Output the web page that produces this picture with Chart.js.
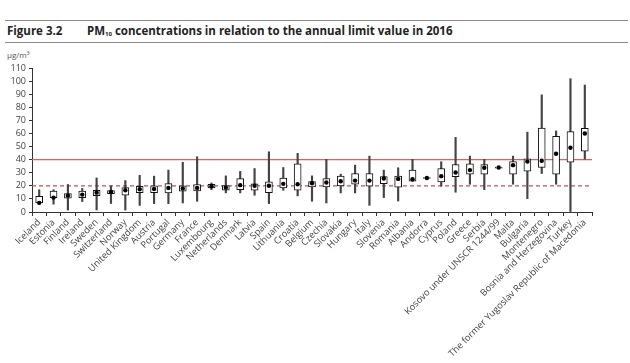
<!DOCTYPE html>
<html>
<head>
<meta charset="utf-8">
<script src="https://cdn.jsdelivr.net/npm/chart.js@4.4.1/dist/chart.umd.min.js"></script>
<style>
  html, body { margin: 0; padding: 0; background: #fff; overflow: hidden; }
  #page { position: relative; width: 630px; height: 363px; font-family: "Open Sans", sans-serif; }
  .rule { position: absolute; left: 5px; right: 2px; height: 0; border-top: 1.5px solid #8a8a8a; }
  #fig { position: absolute; left: 7px; top: 23px; font-size: 11.5px; font-weight: 700; color: #222; }
  #title { position: absolute; left: 87px; top: 23px; font-size: 11.5px; font-weight: 700; color: #222; }
  #title sub { font-size: 6px; vertical-align: -1px; }
  #unit { position: absolute; left: 7px; top: 49px; font-size: 8px; color: #555; }
  canvas { position: absolute; left: 0; top: 0; }
</style>
</head>
<body>
<div id="page">
  <div class="rule" style="top:20px"></div>
  <div class="rule" style="top:42px"></div>
  <div id="fig">Figure 3.2</div>
  <div id="title">PM<sub>10</sub> concentrations in relation to the annual limit value in 2016</div>
  <div id="unit">µg/m³</div>
  <canvas id="chart" width="630" height="363"></canvas>
</div>
<script>
var countries = ['Iceland', 'Estonia', 'Finland', 'Ireland', 'Sweden', 'Switzerland', 'Norway',
  'United Kingdom', 'Austria', 'Portugal', 'Germany', 'France', 'Luxembourg', 'Netherlands',
  'Denmark', 'Latvia', 'Spain', 'Lithuania', 'Croatia', 'Belgium', 'Czechia', 'Slovakia',
  'Hungary', 'Italy', 'Slovenia', 'Romania', 'Albania', 'Andorra', 'Cyprus', 'Poland', 'Greece',
  'Serbia', 'Kosovo under UNSCR 1244/99', 'Malta', 'Bulgaria', 'Montenegro',
  'Bosnia and Herzegovina', 'Turkey', 'The former Yugoslav Republic of Macedonia'];

// lowest station, 25th percentile, median, 75th percentile, highest station
var lowest = [6, 6, 1.5, 8, 1.5, 6.5, 1.5, 5, 6.4, 6.4, 6.9, 8.2, 17.1, 14.6, 14.6, 12.8, 6.4, 16.6,
  12.3, 8.2, 6.9, 14.6, 14.6, 5.1, 11, 8.4, 23.5, 25.3, 19.7, 15.1, 21.2, 17.1, 33.2, 21.2, 10.2,
  29.4, 21.2, 0, 40.4];
var p25 = [7, 11, 10.5, 11, 12.5, 14, 12.8, 14.8, 14.8, 14.6, 15.9, 16.1, 18.4, 16.7, 17.1, 16.6,
  14.8, 18.4, 16.6, 19.2, 19.2, 20, 21.2, 19.7, 21.7, 18.9, 23.5, 25.6, 23, 26.9, 28.9, 28.9, 33.5,
  28.9, 31.2, 34, 28.9, 38.1, 46.5];
var medians = [7, 11, 12.5, 13.3, 14.8, 15.3, 16.6, 17.4, 17.6, 18.4, 17.9, 18.4, 19.7, 18.6, 20.5,
  20, 20, 21.5, 21.2, 22, 22.5, 23.5, 24, 24, 25.6, 25.3, 25, 26, 27.4, 30.2, 32, 33.8, 34, 35.8,
  38.6, 39.1, 44.5, 49.1, 60];
var p75 = [12, 16, 14, 16, 16.6, 16.4, 18.7, 19.7, 20, 21.7, 20, 21, 21.2, 20.1, 25.5, 21.5, 23, 26,
  36.8, 23.3, 25.6, 27.4, 29.4, 29.4, 27.1, 27.4, 32, 26.3, 33.2, 36.3, 36.8, 36.3, 34.3, 38.6,
  40.7, 64.2, 57.8, 61.4, 64];
var highest = [17, 17, 21, 18, 26, 20, 24, 28, 27.4, 32, 38, 42.2, 22.2, 27.6, 31, 33.2, 46, 34, 44.8,
  27.6, 40.2, 28.9, 35.8, 42.7, 32, 33.8, 40.2, 26.6, 38.4, 57, 42.7, 40.2, 34.5, 42.7, 61, 89.5,
  61.9, 101.8, 97];

var limitValue = 40;
var guideValue = 20;
var yTicks = [0, 10, 20, 30, 40, 50, 60, 70, 80, 90, 100, 110];

var whiskers = lowest.map(function(v, i) { return [v, highest[i]]; });
var boxes = p25.map(function(v, i) { return [v, p75[i]]; });

// red limit lines behind the boxes
var limitLines = {
  id: 'limitLines',
  beforeDatasetsDraw: function(chart) {
    var ctx = chart.ctx;
    var area = chart.chartArea;
    var y = chart.scales.y;
    ctx.save();
    ctx.lineWidth = 1.3;
    ctx.strokeStyle = '#d2665e';
    ctx.beginPath();
    ctx.moveTo(area.left, y.getPixelForValue(limitValue));
    ctx.lineTo(area.right, y.getPixelForValue(limitValue));
    ctx.stroke();
    ctx.setLineDash([4, 3]);
    ctx.strokeStyle = '#c9514a';
    ctx.beginPath();
    ctx.moveTo(area.left, y.getPixelForValue(guideValue));
    ctx.lineTo(area.right, y.getPixelForValue(guideValue));
    ctx.stroke();
    ctx.restore();
  }
};

var ctx = document.getElementById('chart').getContext('2d');
new Chart(ctx, {
  type: 'bar',
  data: {
    labels: countries,
    datasets: [
      {
        type: 'line',
        label: 'Median',
        data: medians,
        showLine: false,
        pointRadius: 2.2,
        pointBackgroundColor: '#000',
        pointBorderWidth: 0,
        order: 0
      },
      {
        label: 'Percentiles',
        data: boxes,
        grouped: false,
        barThickness: 7,
        backgroundColor: '#fff',
        borderColor: '#111',
        borderWidth: 1,
        borderSkipped: false,
        order: 1
      },
      {
        label: 'Range',
        data: whiskers,
        grouped: false,
        barThickness: 1.5,
        backgroundColor: '#444',
        borderWidth: 0,
        order: 2
      }
    ]
  },
  options: {
    responsive: false,
    animation: false,
    devicePixelRatio: 1,
    layout: { padding: { top: 68, right: 38, left: 0, bottom: 0 } },
    plugins: { legend: { display: false }, tooltip: { enabled: false } },
    scales: {
      x: {
        afterFit: function(scale) { scale.height = 151; },
        grid: { drawOnChartArea: false, tickLength: 4, color: '#333', offset: true },
        border: { color: '#333', width: 1 },
        ticks: {
          autoSkip: false, minRotation: 45, maxRotation: 45, padding: 1,
          color: '#444', font: { family: 'Open Sans', size: 9.3 }
        }
      },
      y: {
        min: 0,
        max: 110,
        afterFit: function(scale) { scale.width = 32; },
        afterBuildTicks: function(scale) {
          scale.ticks = yTicks.map(function(v) { return { value: v }; });
        },
        grid: { drawOnChartArea: false, tickLength: 3, color: '#333' },
        border: { color: '#333', width: 1 },
        ticks: {
          autoSkip: false, padding: 3, color: '#444',
          font: { family: 'Open Sans', size: 9 }
        }
      }
    }
  },
  plugins: [limitLines]
});
</script>
</body>
</html>
